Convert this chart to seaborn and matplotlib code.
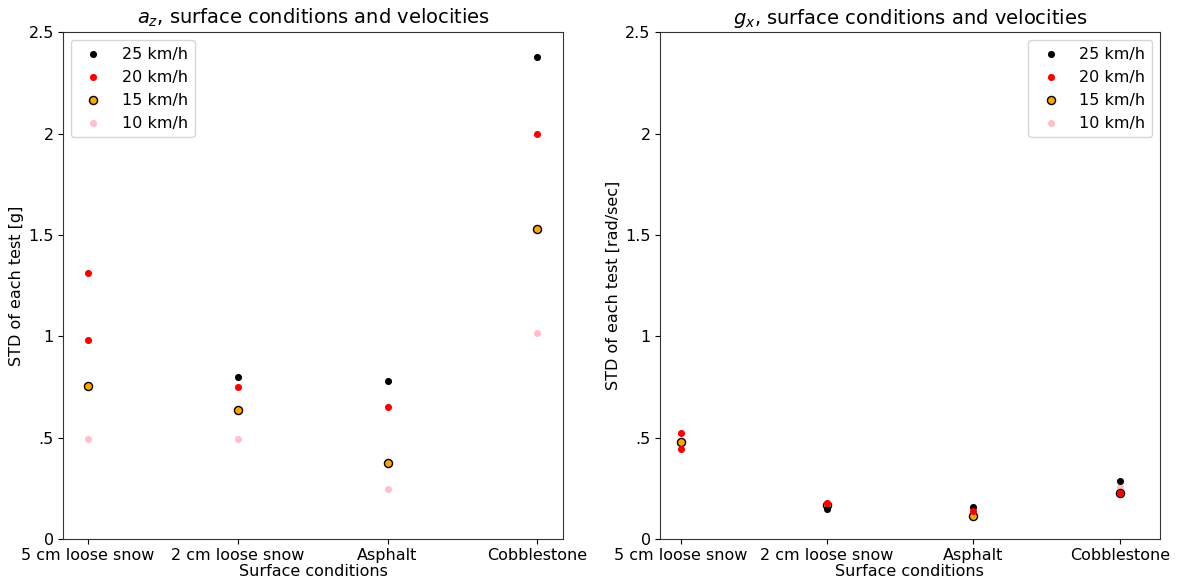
import numpy as np
import pandas as pd
import matplotlib
matplotlib.use("Agg")
import matplotlib.pyplot as plt
import seaborn as sns

sns.set_style("ticks")
plt.rcParams['font.family'] = ['DejaVu Sans']
plt.rcParams['text.color'] = 'black'
plt.rcParams['axes.labelcolor'] = 'black'
plt.rcParams['xtick.color'] = 'black'
plt.rcParams['ytick.color'] = 'black'
plt.rcParams['axes.edgecolor'] = '#333333'

# superfici e velocità
surfaces = ['5 cm loose snow', '2 cm loose snow', 'Asphalt', 'Cobblestone']
speeds = ['25 km/h', '20 km/h', '15 km/h', '10 km/h']
colors = {'25 km/h': 'black', '20 km/h': 'red', '15 km/h': 'orange', '10 km/h': 'pink'}
# ordine di disegno (chi sta sopra a chi)
draw_order = ['10 km/h', '15 km/h', '25 km/h', '20 km/h']

# STD di a_z [g] per ogni test (NaN = test mancante)
az_25 = [np.nan, 0.80, 0.78, 2.38]
az_20 = [1.31, 0.75, 0.65, 2.00]
az_20_extra = [0.98, np.nan, np.nan, np.nan]
az_15 = [0.755, 0.635, 0.375, 1.53]
az_10 = [0.495, 0.495, 0.245, 1.015]

# STD di g_x [rad/sec]
gx_25 = [np.nan, 0.15, 0.158, 0.286]
gx_20 = [0.525, 0.179, 0.14, 0.225]
gx_20_extra = [0.443, np.nan, np.nan, np.nan]
gx_15 = [0.479, 0.167, 0.113, 0.225]
gx_10 = [0.479, 0.165, 0.11, 0.255]

yticks = [0, 0.5, 1, 1.5, 2, 2.5]
yticklabels = ['0', '.5', '1', '1.5', '2', '2.5']


def make_table(v25, v20, v20x, v15, v10):
    rows = []
    for speed, vals in [('25 km/h', v25), ('20 km/h', v20), ('20 km/h', v20x),
                        ('15 km/h', v15), ('10 km/h', v10)]:
        for i, v in enumerate(vals):
            if not np.isnan(v):
                rows.append({'x': i, 'Speed': speed, 'Value': v})
    return pd.DataFrame(rows)


df_az = make_table(az_25, az_20, az_20_extra, az_15, az_10)
df_gx = make_table(gx_25, gx_20, gx_20_extra, gx_15, gx_10)

fig, axes = plt.subplots(1, 2, figsize=(11.95, 5.85), dpi=100)
fig.subplots_adjust(left=0.0527, right=0.9707, top=0.945, bottom=0.0786, wspace=0.193)

panels = [
    (axes[0], df_az, '$a_z$, surface conditions and velocities', 'STD of each test [g]', 'upper left', (-0.167, 3.173)),
    (axes[1], df_gx, '$g_x$, surface conditions and velocities', 'STD of each test [rad/sec]', 'upper right', (-0.144, 3.275)),
]

for ax, df, title, ylabel, loc, xlim in panels:
    for speed in draw_order:
        sub = df[df['Speed'] == speed]
        if speed == '15 km/h':
            sns.scatterplot(data=sub, x='x', y='Value', ax=ax, color=colors[speed], s=34,
                            edgecolor='black', linewidth=1, label=speed)
        else:
            sns.scatterplot(data=sub, x='x', y='Value', ax=ax, color=colors[speed], s=26,
                            linewidth=0, label=speed)
    ax.set_xlim(*xlim)
    ax.set_ylim(0, 2.5)
    ax.set_xticks(range(len(surfaces)))
    ax.set_xticklabels(surfaces, fontsize=11.5)
    ax.set_yticks(yticks)
    ax.set_yticklabels(yticklabels, fontsize=11.5)
    ax.tick_params(length=3.5, pad=3)
    ax.set_title(title, fontsize=14)
    ax.set_xlabel('Surface conditions', fontsize=11.5, labelpad=1)
    ax.set_ylabel(ylabel, fontsize=11.5, labelpad=3)
    # legenda nell'ordine 25, 20, 15, 10
    handles, labels = ax.get_legend_handles_labels()
    lookup = dict(zip(labels, handles))
    ax.legend([lookup[s] for s in speeds], speeds, loc=loc, fontsize=11.5)

plt.savefig('out.png', dpi=100)
